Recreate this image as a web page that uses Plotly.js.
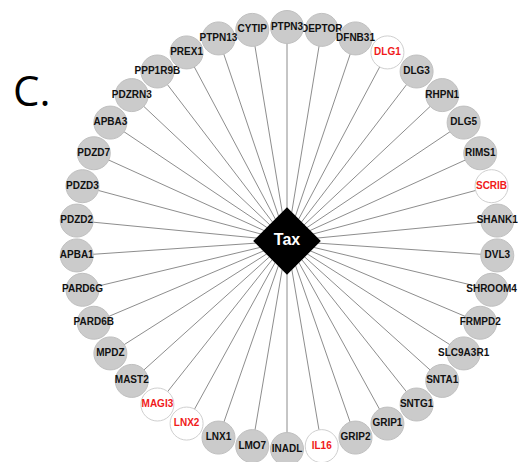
<!DOCTYPE html>
<html>
<head>
<meta charset="utf-8">
<script src="https://cdn.plot.ly/plotly-3.0.1.min.js"></script>
<style>html,body{margin:0;padding:0;background:#fff;}#chart{width:518px;height:462px;}</style>
</head>
<body>
<div id="chart"></div>
<script>
// Nodes in clockwise order starting at the top
const nodeNames = ['PTPN3','DEPTOR','DFNB31','DLG1','DLG3','RHPN1','DLG5','RIMS1','SCRIB','SHANK1',
  'DVL3','SHROOM4','FRMPD2','SLC9A3R1','SNTA1','SNTG1','GRIP1','GRIP2','IL16','INADL',
  'LMO7','LNX1','LNX2','MAGI3','MAST2','MPDZ','PARD6B','PARD6G','APBA1','PDZD2',
  'PDZD3','PDZD7','APBA3','PDZRN3','PPP1R9B','PREX1','PTPN13','CYTIP'];
const highlightedNodes = ['DLG1','SCRIB','IL16','LNX2','MAGI3'];
const hubName = 'Tax';
const panelLabel = 'C.';

// circular layout (pixel-like coordinate space)
const W = 518, H = 462;
const ringCx = 287, ringCy = 238, ringR = 211;
const hubX = 287, hubY = 241;
const n = nodeNames.length;
const pos = {};
nodeNames.forEach((name, i) => {
  const a = i * 2 * Math.PI / n;
  pos[name] = [ringCx + ringR * Math.sin(a), ringCy - ringR * Math.cos(a)];
});

const traces = [];
// edges
const ex = [], ey = [];
nodeNames.forEach(name => { ex.push(hubX, pos[name][0], null); ey.push(hubY, pos[name][1], null); });
traces.push({type:'scatter', mode:'lines', x:ex, y:ey, line:{color:'#707070', width:0.8},
  hoverinfo:'skip', showlegend:false});

// nodes drawn in alphabetical order (later nodes cover earlier labels)
const drawOrder = nodeNames.slice().sort();
drawOrder.forEach(name => {
  const hl = highlightedNodes.includes(name);
  traces.push({type:'scatter', mode:'markers+text', x:[pos[name][0]], y:[pos[name][1]],
    text:['<b>' + name + '</b>'], textposition:'middle center', cliponaxis:false,
    textfont:{family:'Liberation Sans, Arial, sans-serif', size:10, color: hl ? '#f01a1a' : '#111111'},
    marker:{symbol:'circle', size:33, color: hl ? '#ffffff' : '#cbcbcb',
      line:{color: hl ? '#cfcfcf' : '#c0c0c0', width:1}},
    hoverinfo:'skip', showlegend:false});
});

// hub
traces.push({type:'scatter', mode:'markers+text', x:[hubX], y:[hubY], text:['<b>' + hubName + '</b>'],
  textposition:'middle center', cliponaxis:false,
  textfont:{family:'Liberation Sans, Arial, sans-serif', size:16, color:'#ffffff'},
  marker:{symbol:'diamond', size:52, color:'#000000', line:{width:0}},
  hoverinfo:'skip', showlegend:false});

const layout = {
  width: W, height: H,
  margin:{l:0, r:0, t:0, b:0},
  paper_bgcolor:'#ffffff', plot_bgcolor:'#ffffff',
  xaxis:{range:[0, W], visible:false, fixedrange:true},
  yaxis:{range:[H, 0], visible:false, fixedrange:true},
  hovermode:false, showlegend:false,
  annotations:[{text:panelLabel, xref:'x', yref:'y', x:11, y:89, xanchor:'left', yanchor:'middle',
    showarrow:false, font:{family:'Open Sans, sans-serif', size:42, color:'#000000'}}]
};

Plotly.newPlot('chart', traces, layout, {displayModeBar:false, staticPlot:true});
</script>
</body>
</html>
